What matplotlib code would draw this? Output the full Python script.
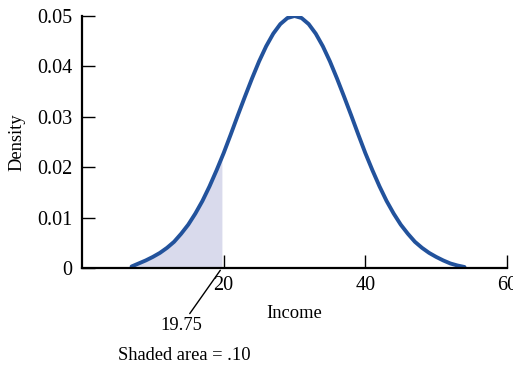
import matplotlib
matplotlib.use("Agg")
import matplotlib.pyplot as plt

# Data
income = [7, 8, 9, 10, 11, 12, 13, 14, 15, 16, 17, 18, 19, 20, 21, 22, 23, 24, 25, 26,
          27, 28, 29, 30, 31, 32, 33, 34, 35, 36, 37, 38, 39, 40, 41, 42, 43, 44, 45,
          46, 47, 48, 49, 50, 51, 52, 53, 54]
density = [0.0003, 0.0009, 0.0015, 0.0022, 0.0030, 0.0040, 0.0052, 0.0068, 0.0086,
           0.0108, 0.0133, 0.0162, 0.0194, 0.0228, 0.0265, 0.0303, 0.0340, 0.0376,
           0.0410, 0.0440, 0.0465, 0.0484, 0.0496, 0.0500, 0.0496, 0.0484, 0.0465,
           0.0440, 0.0410, 0.0376, 0.0340, 0.0303, 0.0265, 0.0228, 0.0194, 0.0162,
           0.0133, 0.0108, 0.0086, 0.0068, 0.0052, 0.0040, 0.0030, 0.0022, 0.0015,
           0.0009, 0.0005, 0.0002]
cutoff = 19.75
cutoff_density = 0.0221
x_ticks = [20, 40, 60]
x_ticklabels = ["20", "40", "60"]
y_ticks = [0, 0.01, 0.02, 0.03, 0.04, 0.05]
y_ticklabels = ["0", "0.01", "0.02", "0.03", "0.04", "0.05"]

FS = 14.5
FS2 = 13.3
plt.rcParams['font.family'] = ['Liberation Serif', 'DejaVu Serif']
fig = plt.figure(figsize=(5.13, 3.68), dpi=100)
ax = fig.add_axes([82/513, 1-268/368, (507-82)/513, (268-16)/368])

# shaded tail
sx = [v for v in income if v < cutoff] + [cutoff]
sy = [d for v, d in zip(income, density) if v < cutoff] + [cutoff_density]
ax.fill_between(sx, 0, sy, color="#d9daec", lw=0)

ax.plot(income, density, color="#22529c", lw=2.8, solid_capstyle="round",
        solid_joinstyle="round")

ax.set_xlim(0, 60)
ax.set_ylim(0, 0.05)
ax.set_xticks(x_ticks)
ax.set_xticklabels(x_ticklabels)
ax.set_yticks(y_ticks)
ax.set_yticklabels(y_ticklabels)
ax.tick_params(direction="in", length=9.5, width=1.0, labelsize=FS)
ax.tick_params(axis="y", pad=7)
ax.tick_params(axis="x", pad=6)
for s in ["top", "right"]:
    ax.spines[s].set_visible(False)
for s in ["left", "bottom"]:
    ax.spines[s].set_linewidth(1.6)
ax.patch.set_alpha(0)

ax.set_xlabel("Income", fontsize=FS2, labelpad=7)
ax.set_ylabel("Density", fontsize=FS2, labelpad=8)

# annotation for the cutoff
ax.annotate("19.75", xy=(cutoff, 0), xycoords="data",
            xytext=(181/513, 1-326/368), textcoords="figure fraction",
            ha="center", va="center", fontsize=FS2,
            arrowprops=dict(arrowstyle="-", color="black", lw=1.0,
                            shrinkA=1, shrinkB=2))
fig.text(184/513, 1-356/368, "Shaded area = .10", ha="center", va="center", fontsize=FS2)

fig.savefig("out.png", dpi=100)
